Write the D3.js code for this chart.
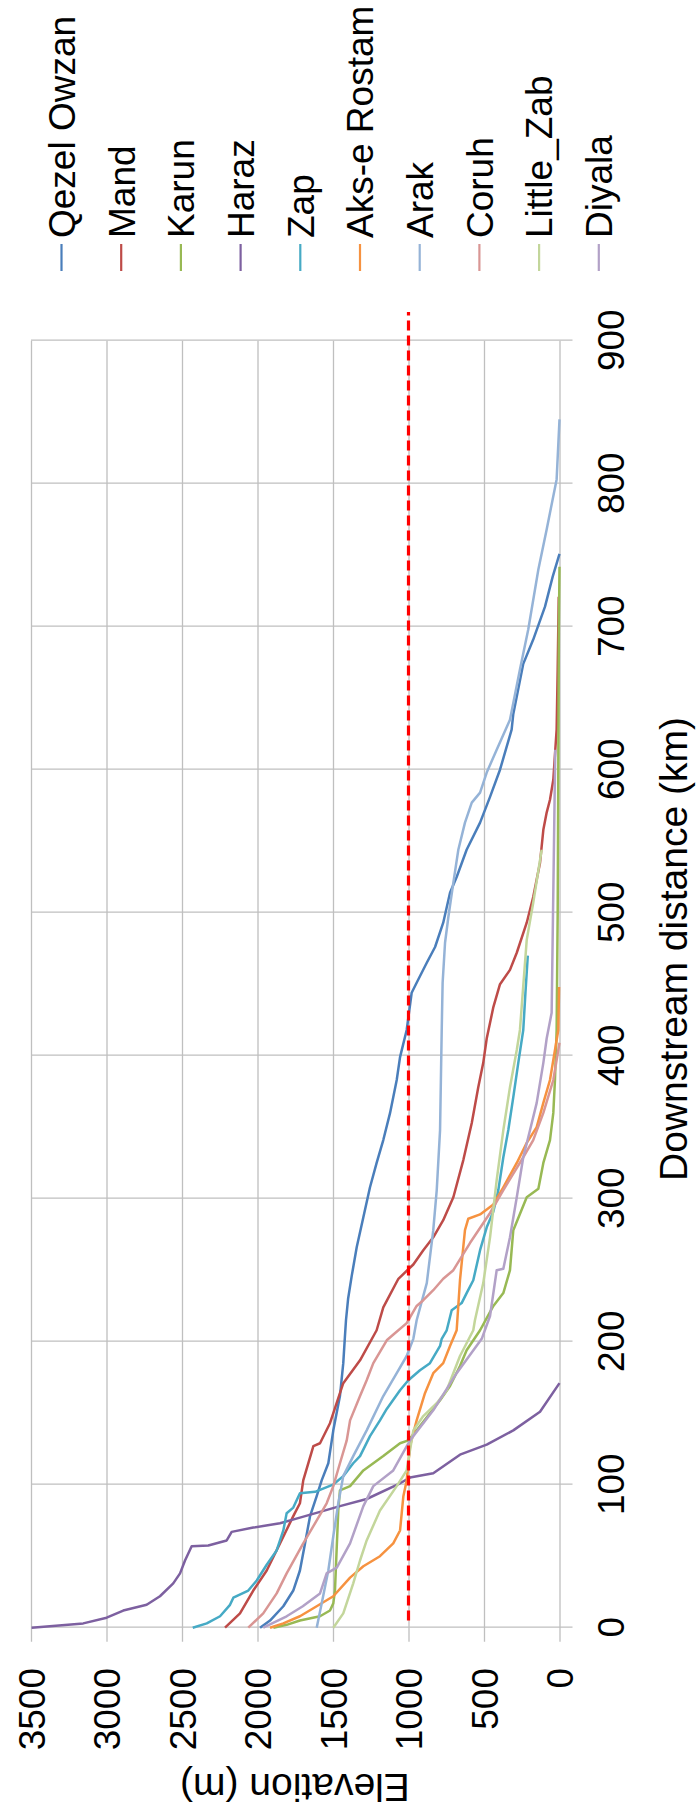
<!DOCTYPE html>
<html>
<head>
<meta charset="utf-8">
<script src="https://cdn.jsdelivr.net/npm/d3@7/dist/d3.min.js"></script>
<style>
  html, body { margin: 0; padding: 0; background: #fff; }
  svg { display: block; }
  text { font-family: "Liberation Sans", Arial, sans-serif; fill: #000; }
</style>
</head>
<body>
<div id="chart"></div>
<script>
// ---------------- DATA ----------------
const seriesNames = ["Qezel Owzan", "Mand", "Karun", "Haraz", "Zap", "Aks-e Rostam", "Arak", "Coruh", "Little_Zab", "Diyala"];
const seriesColors = ["#4A7EBB", "#BE4B48", "#98B954", "#7D60A0", "#46AAC5", "#F69240", "#95B3D7", "#D99694", "#C3D69B", "#B2A1C7"];

const distanceTicks = [0, 100, 200, 300, 400, 500, 600, 700, 800, 900];
const elevationTicks = [0, 500, 1000, 1500, 2000, 2500, 3000, 3500];

// [downstream distance (km), elevation (m)]
const qezelOwzan = [[0,1983],[5,1917],[15,1829],[26,1763],[40,1719],[59,1685],[78,1652],[92,1608],[103,1575],[115,1531],[138,1498],[162,1454],[185,1432],[202,1422],[215,1414],[230,1400],[246,1376],[266,1343],[287,1299],[308,1255],[325,1211],[341,1167],[360,1122],[383,1078],[399,1056],[418,1012],[444,979],[451,946],[465,879],[476,824],[493,770],[514,725],[525,681],[544,615],[563,526],[581,460],[600,394],[628,317],[639,306],[674,240],[691,174],[714,96],[735,45],[751,0]];
const mand = [[0,2215],[10,2116],[26,2028],[40,1939],[59,1851],[78,1763],[87,1719],[103,1697],[127,1630],[129,1586],[143,1520],[171,1432],[187,1321],[208,1211],[224,1167],[244,1067],[254,968],[264,902],[273,836],[285,770],[301,703],[327,637],[353,581],[378,538],[395,505],[412,482],[434,438],[450,394],[460,328],[472,283],[493,217],[511,174],[535,129],[558,107],[570,85],[579,63],[593,41],[628,19],[670,12],[721,5]];
const karun = [[0,1895],[2,1807],[5,1719],[8,1586],[12,1520],[17,1498],[26,1487],[57,1475],[82,1465],[96,1454],[99,1387],[110,1299],[120,1167],[129,1056],[131,1001],[138,946],[150,858],[159,791],[169,725],[183,659],[194,615],[208,526],[225,438],[234,372],[250,328],[278,306],[301,217],[307,140],[325,107],[341,63],[360,41],[383,30],[418,19],[500,12],[600,8],[700,4],[742,0]];
const haraz = [[0,3496],[3,3154],[7,2999],[12,2889],[16,2734],[22,2646],[31,2558],[38,2513],[47,2480],[57,2436],[57.5,2326],[61,2204],[67,2171],[70,2028],[73,1851],[77,1719],[81,1586],[85,1454],[90,1277],[101,1056],[105,990],[108,836],[121,659],[128,482],[138,306],[151,129],[171,0]];
const zap = [[0,2429],[3,2336],[8,2248],[16,2182],[21,2160],[26,2061],[33,2005],[44,1939],[54,1873],[68,1829],[80,1807],[84,1763],[94,1719],[95,1619],[100,1500],[106,1432],[115,1366],[120,1321],[134,1255],[145,1189],[153,1144],[166,1056],[173,1001],[180,924],[185,858],[197,791],[202,780],[208,747],[222,714],[227,648],[234,615],[243,571],[264,526],[280,482],[291,438],[306,405],[329,372],[348,339],[371,306],[395,273],[418,240],[445,225],[470,210]];
const aksERostam = [[0,1917],[3,1829],[8,1719],[15,1608],[22,1498],[35,1387],[43,1299],[50,1189],[59,1101],[68,1056],[80,1045],[92,1034],[103,1012],[127,990],[145,946],[164,891],[178,836],[185,770],[197,725],[208,681],[243,659],[278,626],[286,604],[289,526],[296,438],[308,372],[325,283],[339,217],[350,151],[367,107],[383,63],[418,8],[448,3]];
const arak = [[0,1608],[17,1575],[40,1531],[64,1498],[87,1465],[106,1432],[120,1366],[138,1277],[162,1167],[178,1078],[190,1012],[202,968],[215,946],[241,879],[278,836],[306,813],[348,791],[418,780],[451,774],[479,758],[497,736],[521,703],[544,670],[563,626],[577,581],[584,526],[598,482],[614,416],[635,328],[670,262],[698,207],[740,140],[768,85],[803,19],[845,0]];
const coruh = [[0,2061],[10,1962],[24,1873],[38,1807],[59,1697],[71,1630],[87,1542],[99,1498],[115,1454],[131,1409],[145,1387],[162,1321],[173,1277],[185,1233],[201,1144],[205,1100],[213,1012],[225,946],[229,902],[236,836],[244,770],[250,703],[269,593],[290,460],[306,372],[329,240],[341,174],[360,107],[383,41],[409,0]];
const littleZab = [[0,1498],[10,1432],[31,1366],[47,1321],[61,1277],[82,1189],[99,1078],[110,1012],[138,968],[148,902],[157,813],[166,747],[190,659],[208,571],[215,560],[241,505],[273,460],[313,416],[348,372],[378,328],[404,283],[418,262],[481,217],[507,174],[544,118]];
const diyala = [[0,1962],[8,1807],[15,1700],[24,1586],[38,1542],[42,1475],[59,1387],[85,1299],[99,1233],[110,1101],[131,990],[152,836],[178,681],[202,515],[218,460],[250,416],[251,372],[273,328],[301,283],[329,240],[348,195],[367,151],[395,107],[412,85],[430,52],[614,28]];
const thresholdLine = [[5,1000],[920,1000]];

const seriesData = [qezelOwzan, mand, karun, haraz, zap, aksERostam, arak, coruh, littleZab, diyala];

// ---------------- LAYOUT (unrotated chart frame) ----------------
const W = 700, H = 1814;
const svg = d3.select("#chart").append("svg").attr("width", W).attr("height", H);
// whole chart drawn in landscape frame then rotated 90° counter-clockwise
const g = svg.append("g").attr("transform", `translate(0,${H}) rotate(-90)`);

const x = d3.scaleLinear().domain([0, 900]).range([186.3, 1473.3]);
const y = d3.scaleLinear().domain([0, 3500]).range([559.5, 31]);

const gridColor = "#BFBFBF";
const fontSize = 37;

// distance axis (gridlines + outward ticks)
const gx = g.append("g").attr("transform", `translate(0,${y(0)})`)
  .call(d3.axisBottom(x).tickValues(distanceTicks).tickSize(13).tickPadding(25.5).tickFormat(d3.format("d")));
gx.select(".domain").remove();
gx.selectAll(".tick line").attr("y1", -(y(0) - y(3500))).attr("stroke", gridColor).attr("stroke-width", 1.3);
gx.selectAll(".tick text").attr("font-size", fontSize).attr("fill", "#000")
  .style("font-family", '"Liberation Sans", Arial, sans-serif');

// elevation axis
const gy = g.append("g").attr("transform", `translate(${x(0)},0)`)
  .call(d3.axisLeft(y).tickValues(elevationTicks).tickSize(14).tickPadding(26.3).tickFormat(d3.format("d")));
gy.select(".domain").remove();
gy.selectAll(".tick line").attr("x1", x(900) - x(0)).attr("stroke", gridColor).attr("stroke-width", 1.3);
gy.selectAll(".tick text").attr("font-size", fontSize).attr("fill", "#000").attr("dy", "0.36em")
  .style("font-family", '"Liberation Sans", Arial, sans-serif');

// series lines
const line = d3.line().x(d => x(d[0])).y(d => y(d[1]));
g.append("g").selectAll("path").data(seriesData).join("path")
  .attr("d", line)
  .attr("fill", "none")
  .attr("stroke", (d, i) => seriesColors[i])
  .attr("stroke-width", 2.5)
  .attr("stroke-linejoin", "round");

// threshold dashed line
g.append("path").datum(thresholdLine).attr("d", line)
  .attr("fill", "none").attr("stroke", "#FF0000").attr("stroke-width", 3.2)
  .attr("stroke-dasharray", "10,5");

// axis titles
g.append("text").attr("x", 865).attr("y", 687).attr("text-anchor", "middle")
  .attr("font-size", 39).text("Downstream distance (km)");
g.append("text").attr("transform", "translate(40,295) rotate(-90)").attr("text-anchor", "middle")
  .attr("font-size", 39).text("Elevation (m)");

// legend
const legend = g.append("g").selectAll("g").data(seriesNames).join("g")
  .attr("transform", (d, i) => `translate(1543,${61.5 + i * 59.7})`);
legend.append("line").attr("x1", 0).attr("x2", 27).attr("y1", 0).attr("y2", 0)
  .attr("stroke", (d, i) => seriesColors[i]).attr("stroke-width", 2.2);
legend.append("text").attr("x", 33).attr("y", 0).attr("dy", "0.36em")
  .attr("font-size", fontSize).text(d => d);
</script>
</body>
</html>
